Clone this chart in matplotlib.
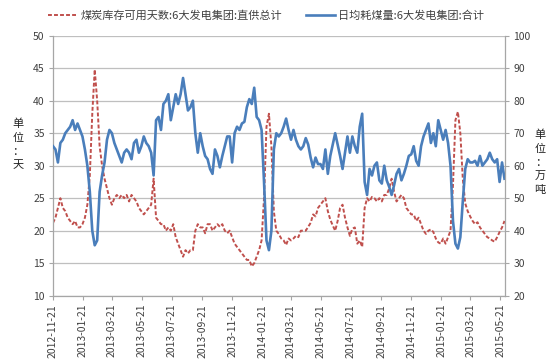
import numpy as np
import pandas as pd
import matplotlib
matplotlib.use('Agg')
import matplotlib.pyplot as plt
from matplotlib.lines import Line2D

plt.rcParams['font.family'] = ['Noto Sans CJK SC', 'DejaVu Sans']

start_date = '2012-11-21'
# 煤炭库存可用天数 (left axis, days), sampled every 5 days
red = [21.2, 22, 23.5, 25, 23.5, 23, 22, 21.5, 21, 21.5,
       20.5, 20.5, 21, 22, 24, 28.5, 38, 44.8, 40, 33,
       30, 28, 26.5, 25, 24, 25, 25.5, 25, 25.5, 25,
       25.5, 24.5, 25.5, 25, 24.5, 23.5, 23, 22.5, 23, 23.5,
       24, 28, 22, 21.5, 21, 21, 20, 20.5, 20, 21,
       19, 18, 17, 16, 17, 16.5, 17, 17, 20, 21,
       20.5, 20.5, 19.6, 21, 21, 20, 20.5, 21, 20.6, 21,
       20, 19.6, 20, 19, 18, 17.5, 17, 16.5, 16, 15.5,
       15.5, 14.5, 15, 16, 17, 18.5, 25, 36, 38, 33,
       23, 20, 19.5, 18.8, 18.5, 17.8, 18.8, 18.5, 18.8, 19.2,
       19, 20, 20, 20, 20.6, 21.2, 22.5, 22.2, 23.5, 24,
       24.5, 25, 23, 21.7, 20.8, 20, 21.5, 23.5, 24, 22,
       20.5, 19.2, 20.3, 20.5, 18, 18.5, 17.5, 23.5, 25, 24.5,
       25.2, 25, 24.5, 25, 24.5, 25.5, 25.5, 26.5, 28, 26,
       24.5, 25, 25.5, 25, 23.5, 23, 22.5, 22.5, 21.5, 22,
       21, 20, 19.5, 20, 20.2, 19.8, 18.8, 18.2, 18, 18.8,
       18, 19, 20, 27, 37, 38.3, 35, 28, 24.2, 23,
       22.2, 21.5, 21, 21.3, 20.5, 20, 19.5, 19, 18.8, 18.5,
       18.3, 19, 19.8, 20.5, 21.5]
# 日均耗煤量 (right axis, 万吨), sampled every 5 days
blue = [66, 65, 61, 67, 68, 70, 71, 72, 74, 71,
        73, 71, 69, 65, 60, 52, 40, 35.5, 37, 52,
        57, 61, 68, 71, 70, 67, 65, 63, 61, 64,
        65, 64, 62, 67, 68, 64, 66, 69, 67, 66,
        64, 57, 74, 75, 71, 79, 80, 82, 74, 78,
        82, 79, 82, 87, 82, 77, 78, 80, 70, 64,
        70, 66, 63, 62, 59, 57.5, 65, 63, 59.5, 63,
        66, 69, 69, 61, 70, 72, 71, 73, 73.5, 78,
        80.5, 79, 84, 75, 74, 71, 55, 37, 34, 40,
        65, 70, 69, 70, 72, 74.5, 71, 68, 71, 68,
        66, 65, 66, 68.5, 66.5, 62.5, 59.5, 62.5, 60.5, 60.5,
        59, 65, 57.5, 63, 66.5, 70, 66.5, 63, 59, 64,
        69, 64, 69, 66, 64, 72, 76, 55, 51, 59,
        57, 60, 61, 55.5, 54.5, 60, 55.5, 53.5, 51, 54,
        57.5, 59, 55.5, 57.5, 60, 63, 63.5, 66, 61.5, 60,
        66, 69, 71, 73, 67, 70, 66, 74, 71, 68,
        71, 67, 60, 43, 36, 34.5, 38, 49, 59, 62,
        61, 61, 61.5, 60, 63, 60, 61, 62, 64, 62,
        61, 62, 55, 61, 56]

red_label = '煤炭库存可用天数:6大发电集团:直供总计'
blue_label = '日均耗煤量:6大发电集团:合计'
left_unit = '单位：天'
right_unit = '单位：万吨'

dates = pd.date_range(start_date, periods=len(red), freq='5D')
tick_dates = pd.date_range('2012-11-21', '2015-05-21', freq=pd.DateOffset(months=2))
tick_labels = [d.strftime('%Y-%m-%d') for d in tick_dates]

red_c = '#C0504D'
blue_c = '#4A7EBB'
grid_c = '#BFBFBF'
axis_c = '#A6A6A6'
txt_c = '#404040'

fig = plt.figure(figsize=(5.58, 3.61), dpi=100)
ax = fig.add_axes([0.095, 0.181, 0.81, 0.72])
ax2 = ax.twinx()

ax.plot(dates, red, color=red_c, lw=1.4, linestyle=(0, (2.0, 1.1)))
ax2.plot(dates, blue, color=blue_c, lw=1.9)

ax.set_ylim(10, 50)
ax.set_yticks(np.arange(10, 51, 5))
ax2.set_ylim(20, 100)
ax2.set_yticks(np.arange(20, 101, 10))
ax.set_xlim(dates[0], pd.Timestamp('2015-05-31'))
ax.set_xticks(tick_dates)
ax.set_xticklabels(tick_labels, rotation=90)

ax.yaxis.grid(True, color=grid_c, lw=0.9)
ax.set_axisbelow(True)

for a in (ax, ax2):
    a.spines['top'].set_visible(False)
    for s in ('left', 'right', 'bottom'):
        a.spines[s].set_color(axis_c)
        a.spines[s].set_linewidth(0.9)
    a.tick_params(axis='both', direction='out', length=3, width=0.8,
                  color=axis_c, labelsize=7.5, labelcolor=txt_c, pad=3)
ax.spines['right'].set_visible(False)
ax2.spines['left'].set_visible(False)
ax2.spines['bottom'].set_visible(False)

fig.text(0.032, 0.6, '\n'.join(left_unit), ha='center', va='center',
         fontsize=8, color='#202020', linespacing=1.45)
fig.text(0.968, 0.55, '\n'.join(right_unit), ha='center', va='center',
         fontsize=8, color='#202020', linespacing=1.45)

handles = [Line2D([], [], color=red_c, lw=1.4, linestyle=(0, (2.0, 1.1))),
           Line2D([], [], color=blue_c, lw=1.9)]
fig.legend(handles, [red_label, blue_label], loc='upper center',
           bbox_to_anchor=(0.477, 1.0), ncol=2, frameon=False, fontsize=8,
           handlelength=2.6, handletextpad=0.3, columnspacing=2.2,
           labelcolor=txt_c)

fig.savefig('out.png', dpi=100)
